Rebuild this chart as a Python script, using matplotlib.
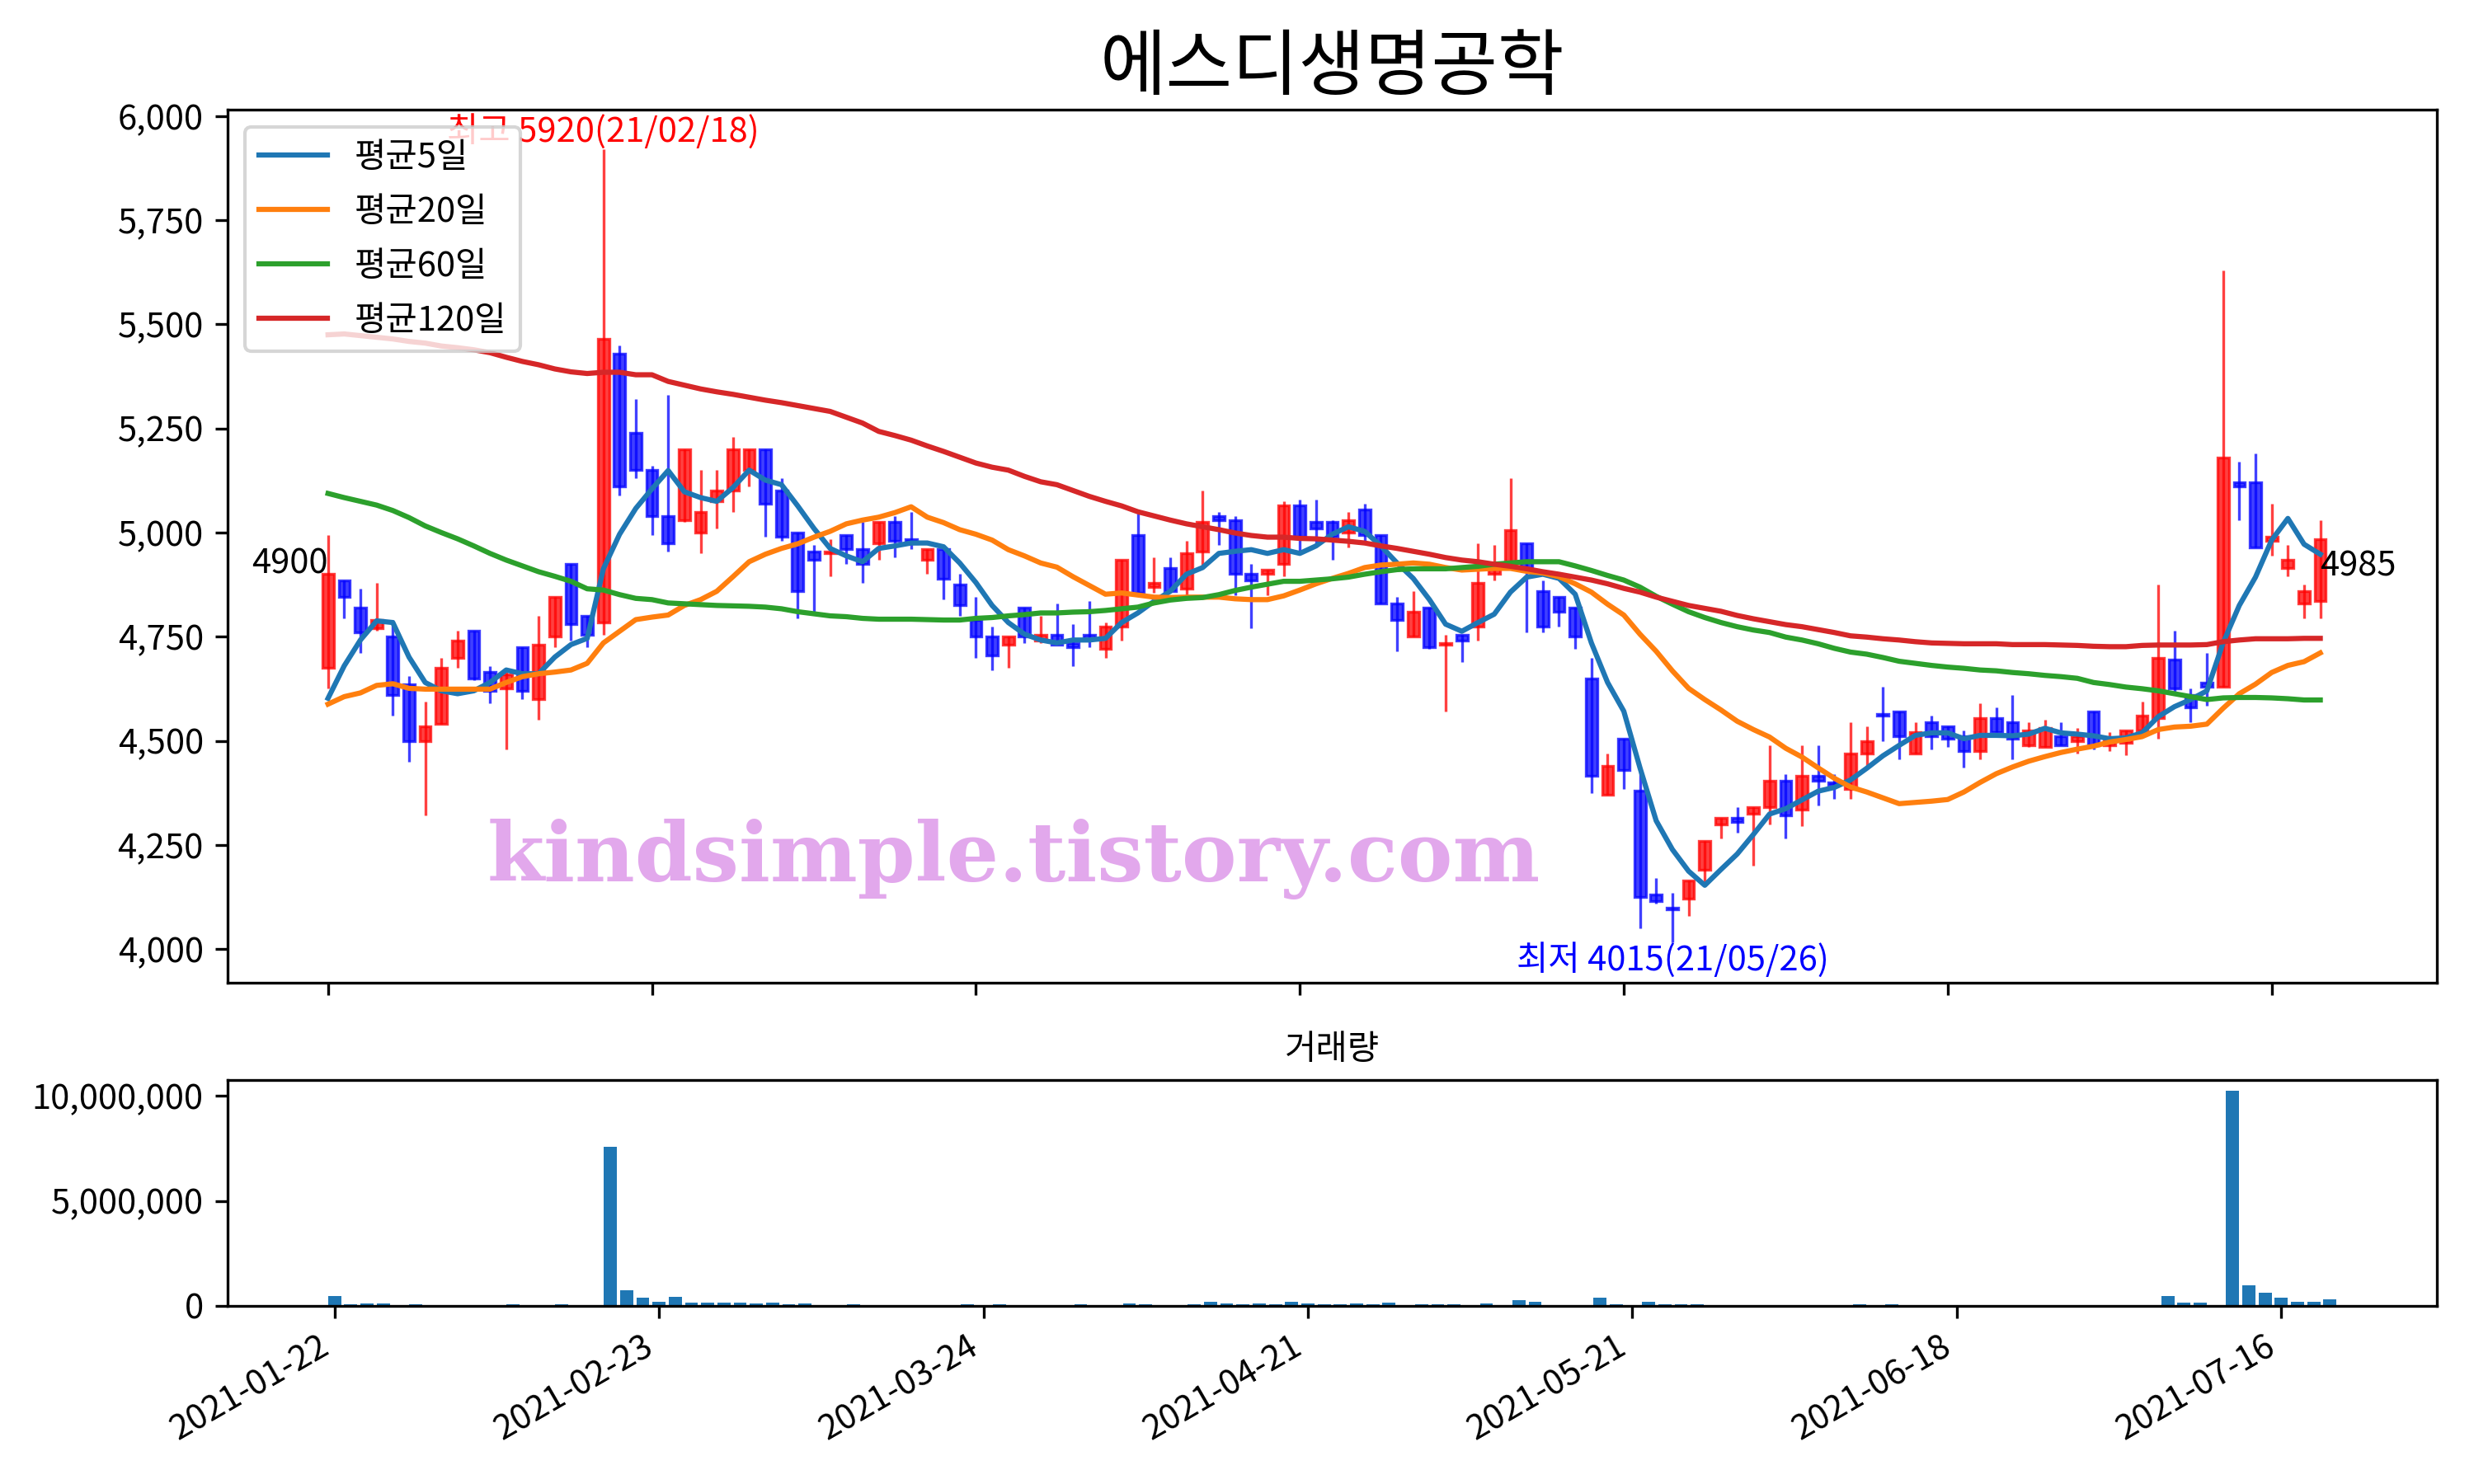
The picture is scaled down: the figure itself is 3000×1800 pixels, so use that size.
import matplotlib
matplotlib.use("Agg")
import matplotlib.pyplot as plt
from matplotlib.ticker import FuncFormatter

plt.rcParams['font.family'] = ['Noto Sans CJK KR', 'DejaVu Sans']
plt.rcParams['axes.unicode_minus'] = False

title = '에스디생명공학'
tick_pos = [0, 20, 40, 60, 80, 100, 120]
tick_labels = ['2021-01-22', '2021-02-23', '2021-03-24', '2021-04-21',
               '2021-05-21', '2021-06-18', '2021-07-16']

# daily candles (trading-day index 0..123)
opens = [
    4675, 4885, 4820, 4770, 4750, 4635, 4500, 4540, 4700, 4765,
    4665, 4625, 4725, 4600, 4750, 4925, 4800, 4785, 5430, 5240,
    5150, 5040, 5030, 5000, 5075, 5100, 5150, 5200, 5100, 5000,
    4955, 4950, 4995, 4960, 4975, 5025, 4985, 4935, 4960, 4875,
    4790, 4750, 4730, 4820, 4740, 4755, 4735, 4755, 4720, 4775,
    4995, 4870, 4915, 4865, 4955, 5040, 5030, 4900, 4900, 4925,
    5065, 5025, 5025, 5000, 5055, 4995, 4830, 4750, 4820, 4730,
    4755, 4775, 4900, 4915, 4975, 4860, 4845, 4820, 4650, 4370,
    4505, 4380, 4130, 4100, 4120, 4190, 4300, 4315, 4325, 4340,
    4405, 4335, 4415, 4400, 4385, 4470, 4565, 4570, 4470, 4545,
    4535, 4510, 4475, 4555, 4545, 4490, 4485, 4510, 4500, 4570,
    4490, 4495, 4525, 4555, 4695, 4610, 4640, 4630, 5120, 5120,
    4980, 4915, 4830, 4835]
highs = [
    4995, 4885, 4865, 4880, 4790, 4655, 4595, 4700, 4765, 4765,
    4680, 4665, 4725, 4800, 4845, 4925, 4800, 5920, 5450, 5320,
    5160, 5330, 5200, 5150, 5150, 5230, 5200, 5200, 5130, 5000,
    4970, 4985, 4995, 5025, 5025, 5040, 5050, 4960, 4970, 4900,
    4845, 4775, 4750, 4820, 4800, 4830, 4780, 4835, 4785, 4935,
    5045, 4940, 4940, 4980, 5100, 5050, 5040, 4925, 4910, 5075,
    5080, 5080, 5030, 5050, 5070, 4995, 4845, 4860, 4820, 4755,
    4755, 4975, 4970, 5130, 4975, 4885, 4845, 4820, 4700, 4470,
    4505, 4430, 4170, 4135, 4165, 4260, 4315, 4340, 4340, 4490,
    4420, 4490, 4490, 4420, 4545, 4535, 4630, 4570, 4545, 4560,
    4535, 4525, 4590, 4580, 4610, 4545, 4550, 4545, 4530, 4570,
    4520, 4525, 4595, 4875, 4765, 4625, 4710, 5630, 5170, 5190,
    5070, 4970, 4875, 5030]
lows = [
    4625, 4795, 4710, 4765, 4560, 4450, 4320, 4540, 4675, 4645,
    4590, 4480, 4600, 4550, 4725, 4740, 4725, 4755, 5090, 5130,
    4995, 4955, 5025, 4950, 5010, 5050, 5110, 4990, 4980, 4795,
    4810, 4895, 4925, 4880, 4935, 4940, 4960, 4900, 4840, 4800,
    4700, 4670, 4675, 4735, 4735, 4730, 4680, 4725, 4700, 4740,
    4855, 4855, 4860, 4845, 4920, 4970, 4850, 4770, 4850, 4895,
    4955, 4970, 4935, 4965, 4980, 4830, 4715, 4750, 4720, 4570,
    4690, 4740, 4885, 4915, 4760, 4760, 4775, 4720, 4375, 4370,
    4385, 4050, 4110, 4015, 4080, 4155, 4265, 4280, 4200, 4300,
    4265, 4295, 4345, 4360, 4360, 4440, 4500, 4455, 4470, 4480,
    4485, 4435, 4455, 4520, 4455, 4485, 4485, 4490, 4470, 4480,
    4475, 4465, 4525, 4505, 4615, 4545, 4585, 4630, 5030, 4965,
    4945, 4895, 4795, 4795]
closes = [
    4900, 4845, 4760, 4790, 4610, 4500, 4535, 4675, 4740, 4650,
    4620, 4660, 4620, 4730, 4845, 4780, 4755, 5465, 5110, 5150,
    5040, 4975, 5200, 5050, 5100, 5200, 5200, 5070, 4990, 4860,
    4935, 4955, 4960, 4925, 5025, 4980, 4975, 4960, 4890, 4825,
    4750, 4705, 4750, 4750, 4755, 4730, 4725, 4745, 4775, 4935,
    4855, 4880, 4860, 4950, 5025, 5030, 4900, 4885, 4910, 5065,
    4990, 5010, 4990, 5030, 4995, 4830, 4790, 4810, 4725, 4735,
    4740, 4880, 4920, 5005, 4915, 4775, 4810, 4750, 4415, 4440,
    4430, 4125, 4115, 4095, 4165, 4260, 4315, 4305, 4340, 4405,
    4320, 4415, 4405, 4395, 4470, 4500, 4560, 4510, 4520, 4510,
    4505, 4475, 4555, 4520, 4505, 4525, 4530, 4490, 4510, 4490,
    4505, 4525, 4560, 4700, 4625, 4580, 4630, 5180, 5110, 4965,
    4990, 4935, 4860, 4985]

# moving averages as drawn
ma5 = [
    4602, 4680, 4742, 4788, 4784, 4701, 4640, 4620, 4613, 4620,
    4640, 4670, 4661, 4661, 4701, 4731, 4746, 4913, 4996, 5058,
    5105, 5149, 5098, 5084, 5075, 5108, 5150, 5126, 5115, 5064,
    5010, 4962, 4944, 4930, 4962, 4968, 4975, 4975, 4966, 4927,
    4880, 4825, 4784, 4756, 4742, 4735, 4742, 4742, 4746, 4784,
    4807, 4835, 4859, 4900, 4916, 4950, 4955, 4959, 4950, 4959,
    4950, 4968, 4996, 5014, 5003, 4968, 4927, 4890, 4839, 4780,
    4763, 4784, 4804, 4857, 4893, 4900, 4890, 4852, 4735, 4640,
    4571, 4435, 4308, 4239, 4187, 4153, 4191, 4228, 4275, 4324,
    4337, 4358, 4379, 4388, 4406, 4434, 4464, 4489, 4513, 4519,
    4519, 4505, 4513, 4513, 4512, 4516, 4530, 4519, 4516, 4512,
    4505, 4507, 4519, 4558, 4582, 4599, 4620, 4735, 4825, 4893,
    4982, 5034, 4972, 4948]
ma20 = [
    4588, 4606, 4615, 4633, 4637, 4626, 4624, 4624, 4624, 4624,
    4624, 4640, 4654, 4661, 4665, 4670, 4686, 4735, 4763, 4791,
    4797, 4802, 4825, 4839, 4859, 4894, 4930, 4948, 4962, 4973,
    4989, 5003, 5021, 5030, 5037, 5048, 5062, 5037, 5024, 5007,
    4996, 4982, 4959, 4944, 4927, 4917, 4894, 4873, 4852, 4855,
    4850, 4845, 4844, 4845, 4845, 4845, 4841, 4839, 4839, 4848,
    4862, 4877, 4890, 4902, 4916, 4922, 4924, 4927, 4924, 4916,
    4910, 4912, 4914, 4914, 4907, 4903, 4894, 4877, 4857, 4828,
    4802, 4756, 4715, 4668, 4626, 4599, 4574, 4547, 4527, 4509,
    4482, 4461, 4435, 4410, 4389, 4377, 4363, 4349, 4352, 4355,
    4359, 4377, 4400, 4421, 4437, 4451, 4462, 4472, 4480, 4487,
    4497, 4503, 4510, 4527, 4533, 4535, 4540, 4578, 4613, 4636,
    4664, 4681, 4690, 4711]
ma60 = [
    5094, 5084, 5075, 5066, 5053, 5036, 5016, 5000, 4985, 4968,
    4950, 4934, 4920, 4906, 4895, 4883, 4865, 4862, 4851, 4842,
    4839, 4831, 4829, 4827, 4825, 4824, 4823, 4821, 4817, 4810,
    4805, 4800, 4798, 4794, 4792, 4792, 4792, 4791, 4790, 4790,
    4794, 4796, 4800, 4803, 4807, 4807, 4809, 4810, 4813, 4817,
    4821, 4831, 4838, 4842, 4844, 4851, 4861, 4869, 4876, 4883,
    4883, 4886, 4889, 4893, 4900, 4906, 4911, 4913, 4913, 4913,
    4916, 4919, 4924, 4927, 4930, 4930, 4930, 4920, 4909, 4897,
    4886, 4869, 4847, 4828, 4810, 4796, 4784, 4774, 4766, 4760,
    4749, 4742, 4733, 4722, 4713, 4708, 4700, 4691, 4686, 4681,
    4677, 4674, 4670, 4668, 4664, 4661, 4657, 4654, 4650, 4640,
    4635, 4629, 4625, 4620, 4613, 4606, 4599, 4603, 4604, 4604,
    4603, 4601, 4598, 4598]
ma120 = [
    5475, 5477, 5473, 5469, 5465, 5459, 5455, 5448, 5444, 5439,
    5432, 5421, 5411, 5403, 5393, 5386, 5382, 5385, 5385, 5379,
    5379, 5363, 5354, 5345, 5338, 5332, 5325, 5318, 5312, 5305,
    5298, 5291, 5277, 5263, 5243, 5233, 5222, 5208, 5195, 5181,
    5167, 5157, 5150, 5135, 5122, 5115, 5101, 5087, 5075, 5064,
    5050, 5040, 5030, 5021, 5014, 5007, 4999, 4993, 4989, 4989,
    4986, 4985, 4982, 4979, 4975, 4968, 4962, 4955, 4948, 4940,
    4934, 4930, 4924, 4919, 4913, 4906, 4900, 4893, 4886, 4877,
    4866, 4857, 4845, 4835, 4825, 4818, 4811, 4801, 4793, 4786,
    4779, 4774, 4767, 4760, 4752, 4749, 4745, 4742, 4738, 4735,
    4734, 4733, 4733, 4733, 4731, 4731, 4731, 4730, 4729, 4727,
    4726, 4726, 4729, 4730, 4730, 4730, 4731, 4738, 4742, 4745,
    4745, 4745, 4746, 4746]

volumes = [
    456000, 65000, 100000, 100000, 15000, 65000, 15000, 15000, 15000, 15000,
    15000, 65000, 15000, 15000, 65000, 15000, 15000, 7575000, 730000, 378000,
    183000, 417000, 143000, 143000, 143000, 143000, 104000, 143000, 65000, 104000,
    15000, 15000, 65000, 15000, 15000, 15000, 15000, 15000, 15000, 65000,
    15000, 65000, 15000, 15000, 15000, 15000, 65000, 15000, 15000, 104000,
    65000, 15000, 15000, 65000, 183000, 104000, 65000, 104000, 65000, 183000,
    104000, 65000, 65000, 104000, 65000, 143000, 15000, 65000, 65000, 65000,
    15000, 104000, 15000, 260000, 183000, 15000, 15000, 15000, 378000, 65000,
    15000, 183000, 65000, 65000, 65000, 15000, 15000, 15000, 15000, 15000,
    15000, 15000, 15000, 15000, 65000, 15000, 65000, 15000, 15000, 15000,
    15000, 15000, 15000, 15000, 15000, 15000, 15000, 15000, 15000, 15000,
    15000, 15000, 15000, 456000, 143000, 143000, 15000, 10230000, 978000, 626000,
    378000, 183000, 183000, 300000]

idx = list(range(len(closes)))

fig = plt.figure(figsize=(10, 6), dpi=300)
ax = fig.add_axes([0.092, 0.338, 0.893, 0.588])
ax_v = fig.add_axes([0.092, 0.12, 0.893, 0.152])

# candles: red = up, blue = down
up = (1.0, 0.0, 0.0, 0.75)
down = (0.0, 0.0, 1.0, 0.75)
colors = [up if c > o else down for o, c in zip(opens, closes)]
bottoms = [min(o, c) for o, c in zip(opens, closes)]
heights = [abs(c - o) for o, c in zip(opens, closes)]
ax.vlines(idx, lows, highs, colors=colors, linewidth=0.8)
ax.bar(idx, heights, width=0.7, bottom=bottoms, color=colors,
       edgecolor=colors, linewidth=0.8)

ax.plot(idx, ma5, label='평균5일')
ax.plot(idx, ma20, label='평균20일')
ax.plot(idx, ma60, label='평균60일')
ax.plot(idx, ma120, label='평균120일')

hi = highs.index(max(highs))
lo = lows.index(min(lows))
ax.text(hi, highs[hi], '최고 %d(21/02/18)' % highs[hi], color='r',
        ha='center', va='bottom', fontsize=10)
ax.text(lo, lows[lo], '최저 %d(21/05/26)' % lows[lo], color='b',
        ha='center', va='top', fontsize=10)
ax.annotate(str(closes[0]), (0, closes[0]), xytext=(0, -2),
            textcoords='offset points', ha='right', va='bottom', fontsize=10)
ax.annotate(str(closes[-1]), (idx[-1], closes[-1]), xytext=(0, -3),
            textcoords='offset points', ha='left', va='top', fontsize=10)

ax.text(0.356, 0.141, 'kindsimple.tistory.com', transform=ax.transAxes,
        ha='center', va='center', fontsize=24, fontweight='heavy',
        family='DejaVu Serif', color='#E2A8EC')

ax.legend(loc='upper left', fontsize=10, labelspacing=0.6)
ax.set_title(title, fontsize=21)
ax.set_xlim(-6.2, 130.2)
ax.set_ylim(min(lows) - 0.05 * (max(highs) - min(lows)),
            max(highs) + 0.05 * (max(highs) - min(lows)))
ax.set_xticks(tick_pos)
ax.tick_params(labelbottom=False)
ax.yaxis.set_major_formatter(FuncFormatter(lambda v, p: '{:,.0f}'.format(v)))

ax_v.bar(idx, volumes, width=0.8)
ax_v.set_title('거래량', fontsize=10)
ax_v.set_xticks(tick_pos)
ax_v.set_xticklabels(tick_labels, rotation=30, ha='right')
ax_v.yaxis.set_major_formatter(FuncFormatter(lambda v, p: '{:,.0f}'.format(v)))

fig.savefig('out.png', dpi=300)
